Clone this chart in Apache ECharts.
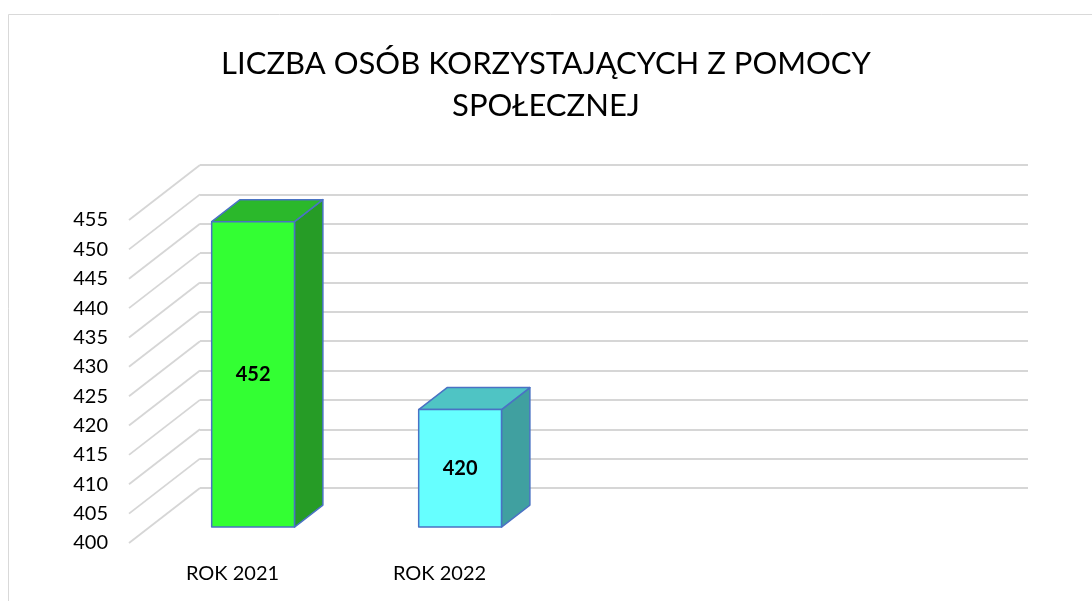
<!DOCTYPE html>
<html>
<head>
<meta charset="utf-8">
<script src="https://cdn.jsdelivr.net/npm/echarts@6/dist/echarts.min.js"></script>
<style>
  html, body { margin: 0; padding: 0; background: #fff; }
  #chart { width: 1092px; height: 601px; }
</style>
</head>
<body>
<div id="chart"></div>
<script>
// Dane wykresu.
const categories = ["ROK 2021", "ROK 2022", "", ""];
const values = [452, 420];
const yTicks = [400, 405, 410, 415, 420, 425, 430, 435, 440, 445, 450, 455];
const titleText = "LICZBA OSÓB KORZYSTAJĄCYCH Z POMOCY\nSPOŁECZNEJ";

// Style słupków: przód, góra, bok.
const BAR_STYLES = [
  { front: "#33ff33", top: "#2bb82b", side: "#269c26" },
  { front: "#66ffff", top: "#4fc4c4", side: "#40a0a0" },
];
const EDGE = "#4a72c4";
const DEPTH = [-71, 55]; // przesunięcie płaszczyzny przedniej względem tylnej ściany
const FONT = "Lato, 'Open Sans', sans-serif";

const chart = echarts.init(document.getElementById("chart"));

function shift(p, f) {
  return [p[0] + DEPTH[0] * f, p[1] + DEPTH[1] * f];
}

// Ukośne linie siatki (podłoga / lewa ściana).
function renderDiagonal(params, api) {
  const cs = params.coordSys;
  const p = api.coord([0, api.value(0)]);
  return {
    type: "line",
    shape: { x1: cs.x, y1: p[1], x2: cs.x + DEPTH[0], y2: p[1] + DEPTH[1] },
    style: { stroke: "#d6d6d6", lineWidth: 1.8 },
    silent: true,
  };
}

// Słupek 3D: przednia ściana, góra, bok.
function renderBar(params, api) {
  const idx = api.value(0);
  const base = api.coord([idx, yTicks[0]]);
  const top = api.coord([idx, api.value(1)]);
  const w = api.size([1, 0])[0] * 0.4;
  const st = BAR_STYLES[params.dataIndex];
  const fF = 0.71, fB = 0.31;
  const fbl = shift([base[0] - w / 2, base[1]], fF);
  const fbr = shift([base[0] + w / 2, base[1]], fF);
  const ftl = shift([top[0] - w / 2, top[1]], fF);
  const ftr = shift([top[0] + w / 2, top[1]], fF);
  const bbr = shift([base[0] + w / 2, base[1]], fB);
  const btl = shift([top[0] - w / 2, top[1]], fB);
  const btr = shift([top[0] + w / 2, top[1]], fB);
  const edge = { stroke: EDGE, lineWidth: 1.5, lineJoin: "round" };
  return {
    type: "group",
    children: [
      { type: "polygon", shape: { points: [fbr, ftr, btr, bbr] }, style: Object.assign({ fill: st.side }, edge) },
      { type: "polygon", shape: { points: [ftl, ftr, btr, btl] }, style: Object.assign({ fill: st.top }, edge) },
      { type: "polygon", shape: { points: [fbl, fbr, ftr, ftl] }, style: Object.assign({ fill: st.front }, edge) },
      {
        type: "text",
        style: {
          x: (fbl[0] + fbr[0]) / 2,
          y: (fbl[1] + ftl[1]) / 2,
          text: String(api.value(1)),
          fill: "#000",
          font: "bold 20px " + FONT,
          align: "center",
          verticalAlign: "middle",
        },
      },
    ],
  };
}

const option = {
  backgroundColor: "#fff",
  animation: false,
  title: {
    text: titleText,
    left: "center",
    top: 38,
    textStyle: { fontFamily: FONT, fontSize: 31, fontWeight: "normal", color: "#000", lineHeight: 42 },
  },
  graphic: [{
    type: "rect",
    shape: { x: 8.5, y: 14.5, width: 1200, height: 700 },
    style: { fill: "none", stroke: "#d9d9d9", lineWidth: 1 },
    silent: true,
  }],
  grid: [
    { left: 200, right: 64, top: 165, bottom: 113 }, // tylna ściana
    { left: 129, right: 135, top: 220, bottom: 58 },  // płaszczyzna przednia (opisy osi)
  ],
  xAxis: [
    { type: "category", data: categories, gridIndex: 0, show: false },
    {
      type: "category", data: categories, gridIndex: 1,
      axisLine: { show: false }, axisTick: { show: false },
      axisLabel: { color: "#000", fontSize: 20, fontFamily: FONT, margin: 21 },
    },
  ],
  yAxis: [
    {
      type: "value", gridIndex: 0, min: 400, max: 455, interval: 5,
      axisLine: { show: false }, axisTick: { show: false }, axisLabel: { show: false },
      splitLine: { lineStyle: { color: "#d6d6d6", width: 1.8 } },
    },
    {
      type: "value", gridIndex: 1, min: 400, max: 455, interval: 5,
      axisLine: { show: false }, axisTick: { show: false }, splitLine: { show: false },
      axisLabel: { color: "#000", fontSize: 20, fontFamily: FONT, margin: 21 },
    },
  ],
  series: [
    {
      type: "custom",
      xAxisIndex: 0, yAxisIndex: 0,
      renderItem: renderDiagonal,
      data: yTicks.map((v) => [v]),
      silent: true,
      z: 1,
    },
    {
      type: "custom",
      xAxisIndex: 0, yAxisIndex: 0,
      renderItem: renderBar,
      data: values.map((v, i) => [i, v]),
      z: 2,
    },
  ],
};

chart.setOption(option);
</script>
</body>
</html>
